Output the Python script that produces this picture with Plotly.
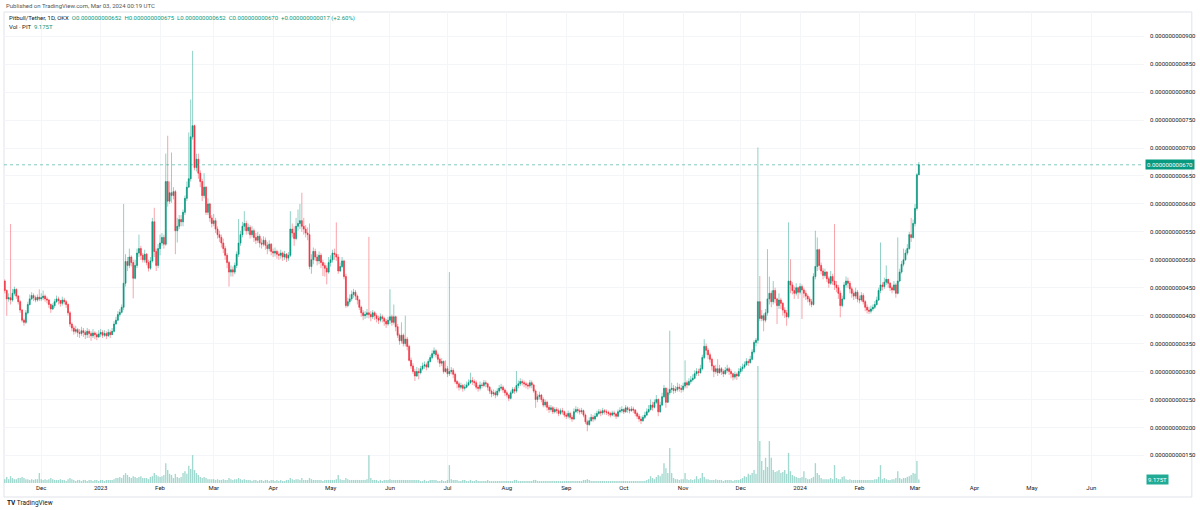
import numpy as np
import pandas as pd
import plotly.graph_objects as go

# Prices are in units of 1e-12 USDT (e.g. 670 -> 0.000000000670)
start_date = "2022-11-11"
first_open = 472

close_nov22 = [462,445,430,432,428,440,447,435,425,410,392,388,405,420,430,436,432,428,433,430]
high_nov22 = [478,465,447,440,564,448,452,449,437,428,412,395,410,425,438,442,440,436,438,447]
low_nov22 = [458,440,400,425,420,425,436,430,420,405,388,382,385,402,418,428,426,424,425,426]

close_dec22 = [432,435,430,428,420,412,418,425,430,427,422,428,425,420,405,385,378,372,375,370,368,373,370,366,372,368,364,369,366,362,367]
high_dec22 = [440,445,438,434,430,422,422,430,436,434,428,434,432,428,422,408,388,382,382,378,376,380,378,374,378,376,372,376,372,370,374]
low_dec22 = [426,428,425,422,414,405,410,414,423,420,416,418,420,414,400,380,372,366,368,362,360,364,362,358,360,360,355,360,358,356,360]

close_jan23 = [370,365,368,364,370,366,372,385,392,402,406,415,458,497,490,505,495,467,490,512,520,508,500,510,495,485,498,568,515,490,520]
high_jan23 = [376,374,374,372,376,374,378,390,398,408,412,420,600,510,505,520,508,500,500,520,545,525,512,518,512,500,505,575,593,520,528]
low_jan23 = [362,360,362,358,362,360,366,370,384,390,398,404,410,452,480,485,488,431,465,485,505,500,495,495,490,479,482,495,505,480,485]

close_feb23 = [530,540,528,640,605,620,615,622,552,560,572,568,585,610,630,645,720,740,665,680,655,640,615,630,585,600,575,565]
high_feb23 = [545,548,545,690,722,640,692,630,625,575,580,580,590,615,640,728,787,874,742,690,690,660,645,655,632,610,602,580]
low_feb23 = [508,525,520,525,595,600,602,608,510,531,555,560,560,580,605,630,640,715,660,658,645,630,605,610,580,580,568,558]

close_mar23 = [570,555,545,540,530,520,508,495,478,482,478,490,510,530,545,560,565,552,558,545,552,540,535,542,530,528,535,526,520,528,515]
high_mar23 = [582,575,560,552,545,538,525,512,498,490,488,495,515,573,552,568,587,570,565,562,560,556,548,550,546,538,542,540,532,535,530]
low_mar23 = [560,548,538,532,522,512,500,485,452,470,470,474,485,505,525,540,552,545,546,538,540,532,528,530,522,520,524,518,510,515,508]

close_apr23 = [512,515,510,508,512,505,510,503,508,555,548,538,560,565,570,560,555,548,545,488,500,515,505,498,508,495,490,485,478,495]
high_apr23 = [520,522,518,515,518,515,516,512,514,587,565,560,575,590,600,620,575,562,558,565,510,522,520,510,515,512,500,495,490,505]
low_apr23 = [505,506,502,500,502,498,500,496,498,505,540,525,535,552,555,550,545,540,535,483,475,492,498,490,492,485,471,470,456,475]

close_may23 = [500,512,510,505,480,488,498,470,418,425,430,438,442,435,428,415,405,400,402,405,402,398,405,400,395,392,398,395,390,385,392]
high_may23 = [508,518,520,567,510,495,505,500,475,432,438,445,448,446,438,430,418,410,408,412,541,408,410,408,404,400,404,402,398,394,398]
low_may23 = [488,495,500,498,475,478,485,465,414,415,420,426,432,428,420,410,398,392,394,396,395,390,394,392,388,385,388,388,382,378,382]

close_jun23 = [398,388,398,380,365,355,365,350,358,345,320,310,300,292,300,298,305,310,312,308,318,325,332,337,330,322,315,318,300,305]
high_jun23 = [447,402,420,400,385,368,388,368,400,362,348,325,315,305,308,306,310,316,318,316,322,330,338,343,340,334,325,324,320,320]
low_jun23 = [385,382,384,372,360,348,350,345,345,338,318,305,296,283,290,286,295,302,305,302,306,316,322,328,325,316,308,310,296,298]

close_jul23 = [296,300,302,295,282,278,272,275,270,272,276,280,284,282,280,272,270,276,275,280,278,272,265,260,262,258,265,270,272,267,262]
high_jul23 = [310,478,308,306,298,285,282,280,278,278,282,286,298,290,286,284,276,282,280,285,284,280,274,268,268,266,270,276,278,275,270]
low_jul23 = [290,292,295,288,278,270,266,268,264,266,270,274,278,276,274,268,264,266,270,272,272,266,260,254,256,252,255,262,266,262,256]

close_aug23 = [258,252,262,268,265,275,278,282,280,278,276,274,280,276,265,250,255,258,250,240,245,236,232,235,228,232,230,225,230,228,222]
high_aug23 = [266,260,266,272,272,301,284,288,286,284,282,280,285,284,278,268,260,264,260,254,250,248,240,240,238,236,236,234,234,235,230]
low_aug23 = [254,247,250,260,260,262,270,274,275,272,270,268,270,270,262,235,245,250,245,236,236,230,226,228,224,225,225,220,222,223,218]

close_sep23 = [220,225,218,215,228,232,230,228,230,222,210,205,212,218,215,220,225,228,226,230,228,227,225,222,226,224,220,228,230,232]
high_sep23 = [226,230,228,222,234,238,236,234,235,232,225,214,218,224,222,226,230,233,232,235,233,232,230,228,230,230,226,232,236,238]
low_sep23 = [215,216,214,210,213,226,225,223,224,218,206,193,203,210,210,212,218,222,220,222,223,222,220,218,220,219,215,218,225,226]

close_oct23 = [228,235,232,230,233,231,225,220,215,212,218,222,228,232,240,236,245,250,228,240,255,270,245,262,268,270,266,268,272,270,268]
high_oct23 = [234,240,238,236,238,237,233,228,224,220,222,228,234,240,250,246,250,258,252,246,262,276,272,270,373,280,276,274,280,278,276]
low_oct23 = [224,226,226,225,228,226,220,215,210,206,210,215,220,226,230,230,234,242,220,226,238,252,235,244,258,262,260,262,264,264,262]

close_nov23 = [274,280,276,282,285,288,296,300,298,305,325,345,338,330,322,310,300,305,298,305,300,296,302,305,300,296,290,295,292,300]
high_nov23 = [280,320,284,288,292,295,302,306,305,312,330,358,350,342,334,325,312,312,322,312,308,304,308,312,308,304,298,300,298,306]
low_nov23 = [264,270,270,274,278,282,286,292,292,296,302,322,330,322,316,302,290,296,292,296,294,290,294,298,294,288,284,286,285,290]

close_dec23 = [305,308,312,318,316,322,335,352,356,425,395,400,392,405,430,440,425,445,430,418,428,422,410,405,398,462,455,445,440,450,442]
high_dec23 = [310,314,318,324,322,328,340,356,360,701,471,410,404,412,519,470,445,462,450,432,440,432,425,415,410,567,501,460,452,458,452]
low_dec23 = [296,300,305,310,310,314,320,332,345,350,390,390,372,388,400,420,415,420,422,385,412,412,400,396,382,395,440,438,430,436,430]

close_jan24 = [452,446,440,435,430,425,420,470,488,518,490,480,472,478,466,458,470,462,455,450,440,418,430,455,462,458,448,440,435,442,430]
high_jan24 = [458,456,450,445,438,434,430,476,552,540,520,495,485,484,480,470,480,475,564,462,455,445,436,460,470,468,462,452,445,450,446]
low_jan24 = [438,394,432,428,424,418,415,418,465,480,482,474,465,468,460,450,455,455,446,442,430,397,415,428,450,450,440,432,428,430,424]

close_feb24 = [428,436,425,415,410,408,412,415,420,428,445,455,452,460,465,458,450,446,455,440,462,478,492,500,512,520,545,540,565]
high_feb24 = [436,442,440,428,420,416,418,420,426,434,450,531,460,468,490,466,460,454,462,458,540,484,498,520,518,528,550,575,572]
low_feb24 = [422,425,420,408,404,403,404,408,412,418,426,440,445,448,455,450,444,440,444,432,438,460,475,488,498,508,518,532,538]

close_mar24 = [592,652,670]
high_mar24 = [600,655,675]
low_mar24 = [560,588,652]

# Volume in trillions of PIT
vol_nov22 = [13,10,16,10,18,13,10,10,13,13,16,13,10,10,8,10,8,10,10,26]
vol_dec22 = [10,8,10,8,10,13,10,8,8,8,10,8,8,5,10,13,10,8,5,8,8,5,8,8,5,8,8,5,8,8,5]
vol_jan23 = [8,8,5,8,8,8,8,10,13,13,16,13,21,26,21,16,13,18,16,13,16,18,13,13,13,10,16,18,26,21,18]
vol_feb23 = [16,18,21,52,34,24,21,13,24,16,13,16,26,31,24,45,37,73,34,26,21,16,13,16,13,10,10,10]
vol_mar23 = [10,8,10,8,8,10,8,8,13,10,8,10,10,13,10,8,10,8,8,8,5,8,8,5,8,8,5,8,8,5,8]
vol_apr23 = [8,5,8,5,8,5,5,8,8,13,10,8,10,10,8,13,8,8,8,13,10,8,8,8,8,8,5,8,8,8]
vol_may23 = [8,8,8,10,21,10,8,8,13,10,8,8,8,8,8,8,8,8,8,10,73,13,8,8,8,5,8,5,8,8,8]
vol_jun23 = [10,8,8,8,8,8,8,8,8,8,8,8,8,8,8,8,5,5,8,5,5,8,8,8,8,5,5,8,5,5]
vol_jul23 = [8,47,10,8,8,8,5,5,8,8,5,5,8,5,5,8,5,5,5,5,5,8,5,5,5,5,5,5,5,5,5]
vol_aug23 = [5,5,5,5,8,8,5,5,5,5,5,5,5,5,8,8,5,5,5,5,5,5,5,5,5,5,5,5,5,5,5]
vol_sep23 = [5,5,5,5,5,5,5,5,5,8,8,10,8,5,5,5,5,5,5,5,5,5,5,5,5,5,5,5,5,5]
vol_oct23 = [5,5,5,5,5,5,5,5,5,5,5,5,8,10,18,13,10,16,21,18,24,52,39,26,92,26,13,10,10,8,10]
vol_nov23 = [10,26,10,8,10,8,10,18,10,13,26,16,10,10,8,8,8,10,8,8,8,5,8,8,8,8,5,8,8,8]
vol_dec23 = [10,13,18,16,24,21,26,34,24,307,110,58,34,66,42,110,66,34,29,31,34,26,29,34,24,79,31,21,18,16,13]
vol_jan24 = [13,16,31,13,10,10,13,16,52,26,21,13,10,10,10,10,13,10,47,13,10,10,16,18,10,8,10,8,8,8,8]
vol_feb24 = [8,8,8,8,8,8,8,8,10,10,16,47,10,13,10,8,8,10,10,13,31,13,10,13,13,16,18,21,26]
vol_mar24 = [24,58,9.175]

price_ticks = [150,200,250,300,350,400,450,500,550,600,650,700,750,800,850,900]
month_ticks = ["2022-12-01","2023-01-01","2023-02-01","2023-03-01","2023-04-01","2023-05-01","2023-06-01",
               "2023-07-01","2023-08-01","2023-09-01","2023-10-01","2023-11-01","2023-12-01","2024-01-01",
               "2024-02-01","2024-03-01","2024-04-01","2024-05-01","2024-06-01"]
month_labels = ["Dec","2023","Feb","Mar","Apr","May","Jun","Jul","Aug","Sep","Oct","Nov","Dec","2024",
                "Feb","Mar","Apr","May","Jun"]

closes = (close_nov22 + close_dec22 + close_jan23 + close_feb23 + close_mar23 + close_apr23 + close_may23 +
          close_jun23 + close_jul23 + close_aug23 + close_sep23 + close_oct23 + close_nov23 + close_dec23 +
          close_jan24 + close_feb24 + close_mar24)
highs = (high_nov22 + high_dec22 + high_jan23 + high_feb23 + high_mar23 + high_apr23 + high_may23 +
         high_jun23 + high_jul23 + high_aug23 + high_sep23 + high_oct23 + high_nov23 + high_dec23 +
         high_jan24 + high_feb24 + high_mar24)
lows = (low_nov22 + low_dec22 + low_jan23 + low_feb23 + low_mar23 + low_apr23 + low_may23 +
        low_jun23 + low_jul23 + low_aug23 + low_sep23 + low_oct23 + low_nov23 + low_dec23 +
        low_jan24 + low_feb24 + low_mar24)
volumes = (vol_nov22 + vol_dec22 + vol_jan23 + vol_feb23 + vol_mar23 + vol_apr23 + vol_may23 +
           vol_jun23 + vol_jul23 + vol_aug23 + vol_sep23 + vol_oct23 + vol_nov23 + vol_dec23 +
           vol_jan24 + vol_feb24 + vol_mar24)

close = np.array(closes, dtype=float)
open_ = np.concatenate([[first_open], close[:-1]])
high = np.maximum(np.array(highs, dtype=float), np.maximum(open_, close))
low = np.minimum(np.array(lows, dtype=float), np.minimum(open_, close))
dates = pd.date_range(start_date, periods=len(close), freq="D")

TEAL = "#089981"
RED = "#F23645"
FONT = "Roboto, Arial, sans-serif"
GRID = "#f4f5f8"

fig = go.Figure()
fig.add_trace(go.Bar(x=dates, y=volumes, yaxis="y2",
                     marker=dict(color="rgba(8,153,129,0.38)", line=dict(width=0)),
                     hoverinfo="skip", showlegend=False))
fig.add_trace(go.Candlestick(
    x=dates, open=open_, high=high, low=low, close=close,
    increasing=dict(line=dict(color="rgba(8,153,129,0.45)", width=1), fillcolor="rgba(8,153,129,0.45)"),
    decreasing=dict(line=dict(color="rgba(242,54,69,0.45)", width=1), fillcolor="rgba(242,54,69,0.45)"),
    whiskerwidth=0, hoverinfo="skip", showlegend=False))
body_hi = np.maximum(open_, close)
body_lo = np.minimum(open_, close)
fig.add_trace(go.Candlestick(
    x=dates, open=open_, high=body_hi, low=body_lo, close=close,
    increasing=dict(line=dict(color=TEAL, width=0.3), fillcolor=TEAL),
    decreasing=dict(line=dict(color=RED, width=0.3), fillcolor=RED),
    whiskerwidth=0, hoverinfo="skip", showlegend=False))

last = close[-1]
W, L, R, T, B = 1200, 4, 52, 12, 27
pw, ph = W - L - R, 510 - T - B

def px(x):
    return (x - L) / pw

def py(y):
    return (510 - B - y) / ph

fig.update_layout(
    width=1200, height=510,
    margin=dict(l=L, r=R, t=T, b=B),
    paper_bgcolor="white", plot_bgcolor="white",
    font=dict(family=FONT, size=6, color="#131722"),
    showlegend=False, bargap=0.3,
    xaxis=dict(type="date", range=["2022-11-11 13:44", "2024-06-28 12:00"],
               rangeslider=dict(visible=False),
               tickvals=month_ticks, ticktext=month_labels,
               showgrid=True, gridcolor=GRID, gridwidth=1, zeroline=False, showline=False,
               ticks="", tickfont=dict(size=6, color="#131722", family=FONT)),
    yaxis=dict(side="right", range=[100.5, 943.5],
               tickvals=price_ticks, ticktext=["0.000000000%03d" % v for v in price_ticks],
               showgrid=True, gridcolor=GRID, zeroline=False, showline=False, ticks="",
               ticklabelstandoff=5, tickfont=dict(size=6, color="#131722", family=FONT)),
    yaxis2=dict(overlaying="y", range=[0, 1236], visible=False),
    shapes=[
        dict(type="line", xref="paper", x0=0, x1=1, yref="y", y0=last, y1=last,
             line=dict(color="rgba(8,153,129,0.5)", width=1, dash="dot")),
        dict(type="rect", xref="paper", x0=0, x1=px(1196), yref="paper", y0=py(497), y1=py(12),
             line=dict(color="#e0e3eb", width=1), fillcolor="rgba(0,0,0,0)", layer="below"),
    ],
    annotations=[
        dict(xref="paper", yref="paper", x=px(4), y=py(5), xanchor="left", yanchor="middle",
             text="Published on TradingView.com, Mar 03, 2024 00:19 UTC", showarrow=False,
             font=dict(size=6, color="#555555", family=FONT)),
        dict(xref="paper", yref="paper", x=px(7), y=py(17.5), xanchor="left", yanchor="middle",
             text=("Pitbull/Tether, 1D, OKX  "
                   "<span style='color:#089981'>O0.000000000652  H0.000000000675  L0.000000000652  "
                   "C0.000000000670  +0.000000000017 (+2.60%)</span>"),
             showarrow=False, font=dict(size=6, color="#131722", family=FONT)),
        dict(xref="paper", yref="paper", x=px(7), y=py(26.5), xanchor="left", yanchor="middle",
             text="Vol · PIT  <span style='color:#089981'>9.175T</span>", showarrow=False,
             font=dict(size=6, color="#131722", family=FONT)),
        dict(xref="paper", yref="y", x=1, y=last, xanchor="left", yanchor="middle", xshift=1,
             text="0.000000000670", showarrow=False, bgcolor=TEAL, borderpad=1,
             font=dict(size=6, color="white", family=FONT)),
        dict(xref="paper", yref="y2", x=1, y=vol_mar24[-1], xanchor="left", yanchor="middle", xshift=2,
             text="9.175T", showarrow=False, bgcolor="#22ab94", borderpad=1,
             font=dict(size=6, color="white", family=FONT)),
        dict(xref="paper", yref="paper", x=px(5), y=py(503), xanchor="left", yanchor="middle",
             text="<b>TV</b> TradingView", showarrow=False,
             font=dict(size=6.5, color="#131722", family=FONT)),
    ],
)

fig.write_html("out.html")
